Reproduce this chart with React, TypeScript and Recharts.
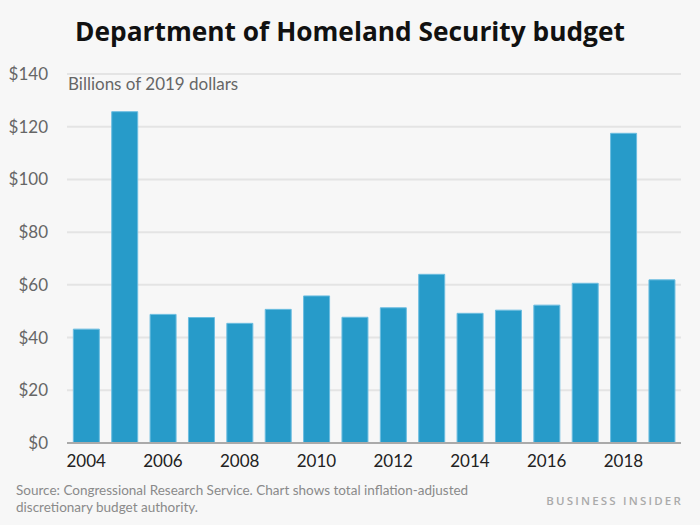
import { BarChart, Bar, XAxis, YAxis, CartesianGrid } from 'recharts';

const years = [
  '2004', '2005', '2006', '2007', '2008', '2009', '2010', '2011',
  '2012', '2013', '2014', '2015', '2016', '2017', '2018', '2019',
];
const budget = [43.2, 125.7, 48.8, 47.6, 45.4, 50.7, 55.8, 47.7, 51.3, 64.0, 49.2, 50.4, 52.3, 60.6, 117.5, 61.9];
const yTicks = [0, 20, 40, 60, 80, 100, 120, 140];

const data = years.map((year, i) => ({ year, budget: budget[i] }));

const FONT = 'Lato, "Noto Sans", sans-serif';

export default function App() {
  return (
    <div
      style={{
        position: 'absolute',
        left: 0,
        top: 0,
        width: 700,
        height: 525,
        background: '#f7f7f7',
        fontFamily: FONT,
        overflow: 'hidden',
      }}
    >
      <div
        style={{
          position: 'absolute',
          top: 13,
          left: 0,
          width: 700,
          textAlign: 'center',
          fontSize: 26.3,
          fontWeight: 700,
          color: '#111',
          fontFamily: '"Open Sans", sans-serif',
        }}
      >
        Department of Homeland Security budget
      </div>
      <div style={{ position: 'absolute', top: 73, left: 68, fontSize: 17, color: '#666' }}>
        Billions of 2019 dollars
      </div>

      <BarChart
        width={700}
        height={525}
        data={data}
        margin={{ top: 74, right: 19, bottom: 52, left: 0 }}
        barCategoryGap="16.5%"
      >
        <CartesianGrid vertical={false} stroke="#e4e4e4" strokeWidth={2} />
        <XAxis
          dataKey="year"
          interval={1}
          height={30}
          tickSize={0}
          tickMargin={12}
          axisLine={{ stroke: '#aaa', strokeWidth: 2 }}
          tick={{ fill: '#222', fontSize: 17, fontFamily: FONT }}
        />
        <YAxis
          domain={[0, 140]}
          ticks={yTicks}
          width={67}
          tickSize={0}
          tickMargin={19}
          axisLine={false}
          tickFormatter={(v: number) => `$${v}`}
          tick={{ fill: '#666', fontSize: 17, fontFamily: FONT }}
        />
        <Bar dataKey="budget" fill="#279bc9" stroke="#6cbde0" strokeWidth={1} isAnimationActive={false} />
      </BarChart>

      <div
        style={{
          position: 'absolute',
          top: 482,
          left: 16,
          fontSize: 13.5,
          lineHeight: '17px',
          color: '#8a8a8a',
        }}
      >
        Source: Congressional Research Service. Chart shows total inflation-adjusted
        <br />
        discretionary budget authority.
      </div>
      <div
        style={{
          position: 'absolute',
          top: 493,
          right: 17,
          fontSize: 11.5,
          letterSpacing: 2.2,
          color: '#aaa',
          fontWeight: 600,
          fontFamily: '"Open Sans", sans-serif',
        }}
      >
        BUSINESS INSIDER
      </div>
    </div>
  );
}
